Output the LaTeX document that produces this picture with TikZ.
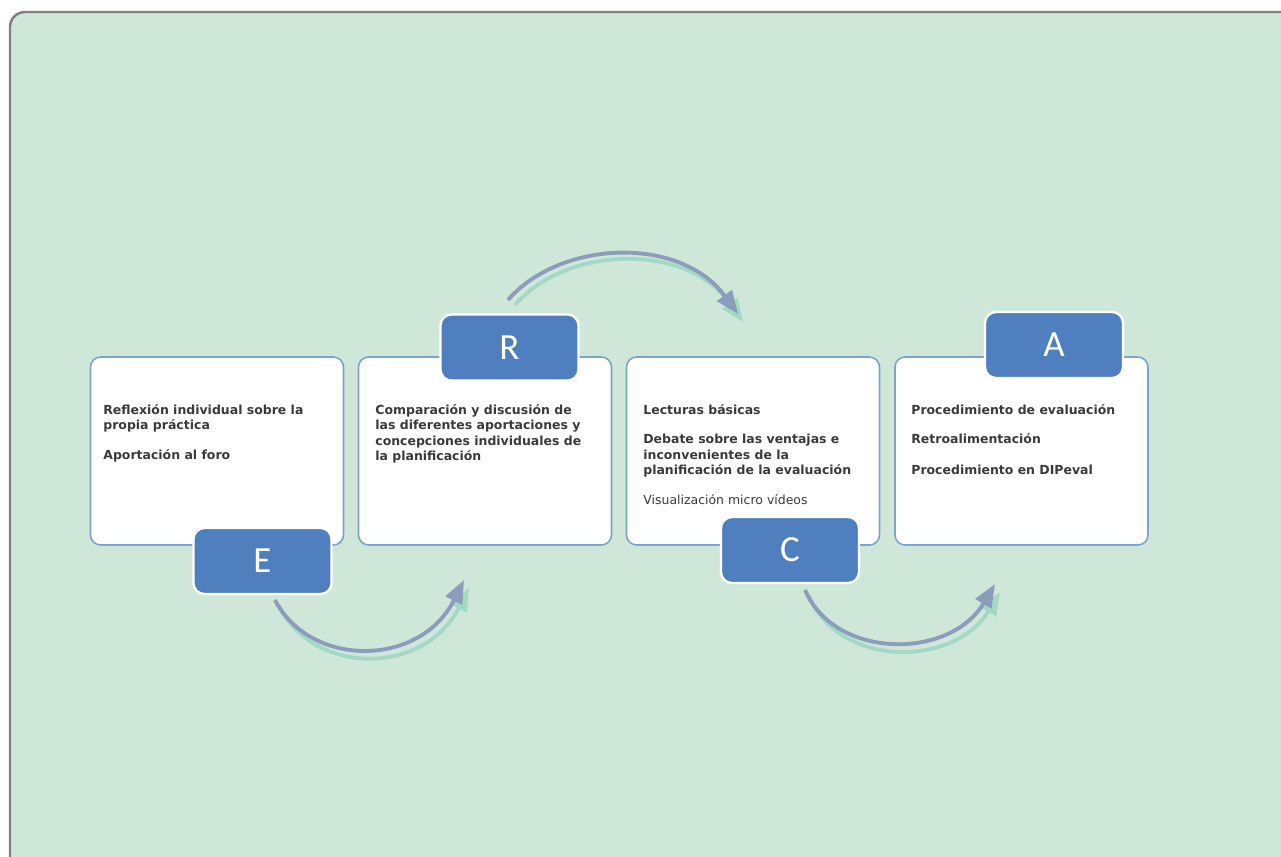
\documentclass[tikz,border=0pt]{standalone}
\usepackage{fontspec}
\setmainfont{DejaVu Sans}
\newfontfamily\tabfont{Carlito}
\usetikzlibrary{arrows.meta}
\definecolor{fondo}{HTML}{CFE7D8}
\definecolor{marco}{HTML}{808080}
\definecolor{bordecaja}{HTML}{7CA2D0}
\definecolor{azul}{HTML}{4F7FBE}
\definecolor{gristexto}{HTML}{3A3A3A}
\definecolor{grisflecha}{HTML}{8C9CBC}
\definecolor{verdeflecha}{HTML}{A3D9C4}
\tikzset{
  caja/.style={draw=bordecaja, fill=white, rounded corners=0.2cm, line width=0.9pt,
    minimum width=5.06cm, minimum height=3.76cm},
  letra/.style={draw=white, fill=azul, text=white, rounded corners=0.22cm, line width=1.3pt,
    minimum width=2.76cm, minimum height=1.32cm, font=\tabfont\fontsize{21}{21}\selectfont},
  texto/.style={anchor=north west, inner sep=0pt, align=left, text=gristexto,
    font=\bfseries\fontsize{7.1}{8.8}\selectfont},
  flecha/.style={draw=grisflecha, line width=2.2pt, -{Triangle[length=0.46cm,width=0.36cm]}},
  sombra/.style={draw=verdeflecha, line width=2.2pt, -{Triangle[length=0.46cm,width=0.36cm]}}
}
\begin{document}
\begin{tikzpicture}[x=0.02cm,y=-0.02cm]
  \clip (0,0) rectangle (1281,856);
  \fill[white] (0,0) rectangle (1281,856);
  \draw[marco, fill=fondo, line width=1.4pt, rounded corners=0.3cm] (10,12) rectangle (1320,900);

  \node[caja] (cajaE) at (217,451) {};
  \node[caja] (cajaR) at (485,451) {};
  \node[caja] (cajaC) at (753,451) {};
  \node[caja] (cajaA) at (1021.5,451) {};

  \node[texto] (txtE) at (103,404) {Reflexión individual sobre la\\propia práctica\\[8pt]Aportación al foro};
  \node[texto] (txtR) at (375,404) {Comparación y discusión de\\las diferentes aportaciones y\\concepciones individuales de\\la planificación};
  \node[texto] (txtC) at (643,404) {Lecturas básicas\\[8pt]Debate sobre las ventajas e\\inconvenientes de la\\planificación de la evaluación\\[8pt]{\mdseries Visualización micro vídeos}};
  \node[texto] (txtA) at (911,404) {Procedimiento de evaluación\\[8pt]Retroalimentación\\[8.5pt]Procedimiento en DIPeval};

  \node[letra] (E) at (262.5,561) {E};
  \node[letra] (R) at (509.5,347.5) {R};
  \node[letra] (C) at (790,550) {C};
  \node[letra] (A) at (1054,345) {A};

  \coordinate (e1) at (275,600);
  \coordinate (r1) at (464,580);
  \coordinate (r2) at (508,300);
  \coordinate (c1) at (738,314);
  \coordinate (c2) at (805,590);
  \coordinate (a1) at (995,584);

  \draw[sombra] ([shift={(4,6)}]e1) .. controls (314,676) and (424,676) .. ([shift={(5,8)}]r1);
  \draw[flecha] (e1) .. controls (310,668) and (420,668) .. (r1);
  \draw[sombra] ([shift={(7,5)}]r2) .. controls (566,246) and (686,241) .. ([shift={(5,8)}]c1);
  \draw[flecha] (r2) .. controls (560,240) and (680,235) .. (c1);
  \draw[sombra] ([shift={(4,6)}]c2) .. controls (839,668) and (954,668) .. ([shift={(5,8)}]a1);
  \draw[flecha] (c2) .. controls (835,660) and (950,660) .. (a1);
\end{tikzpicture}
\end{document}
